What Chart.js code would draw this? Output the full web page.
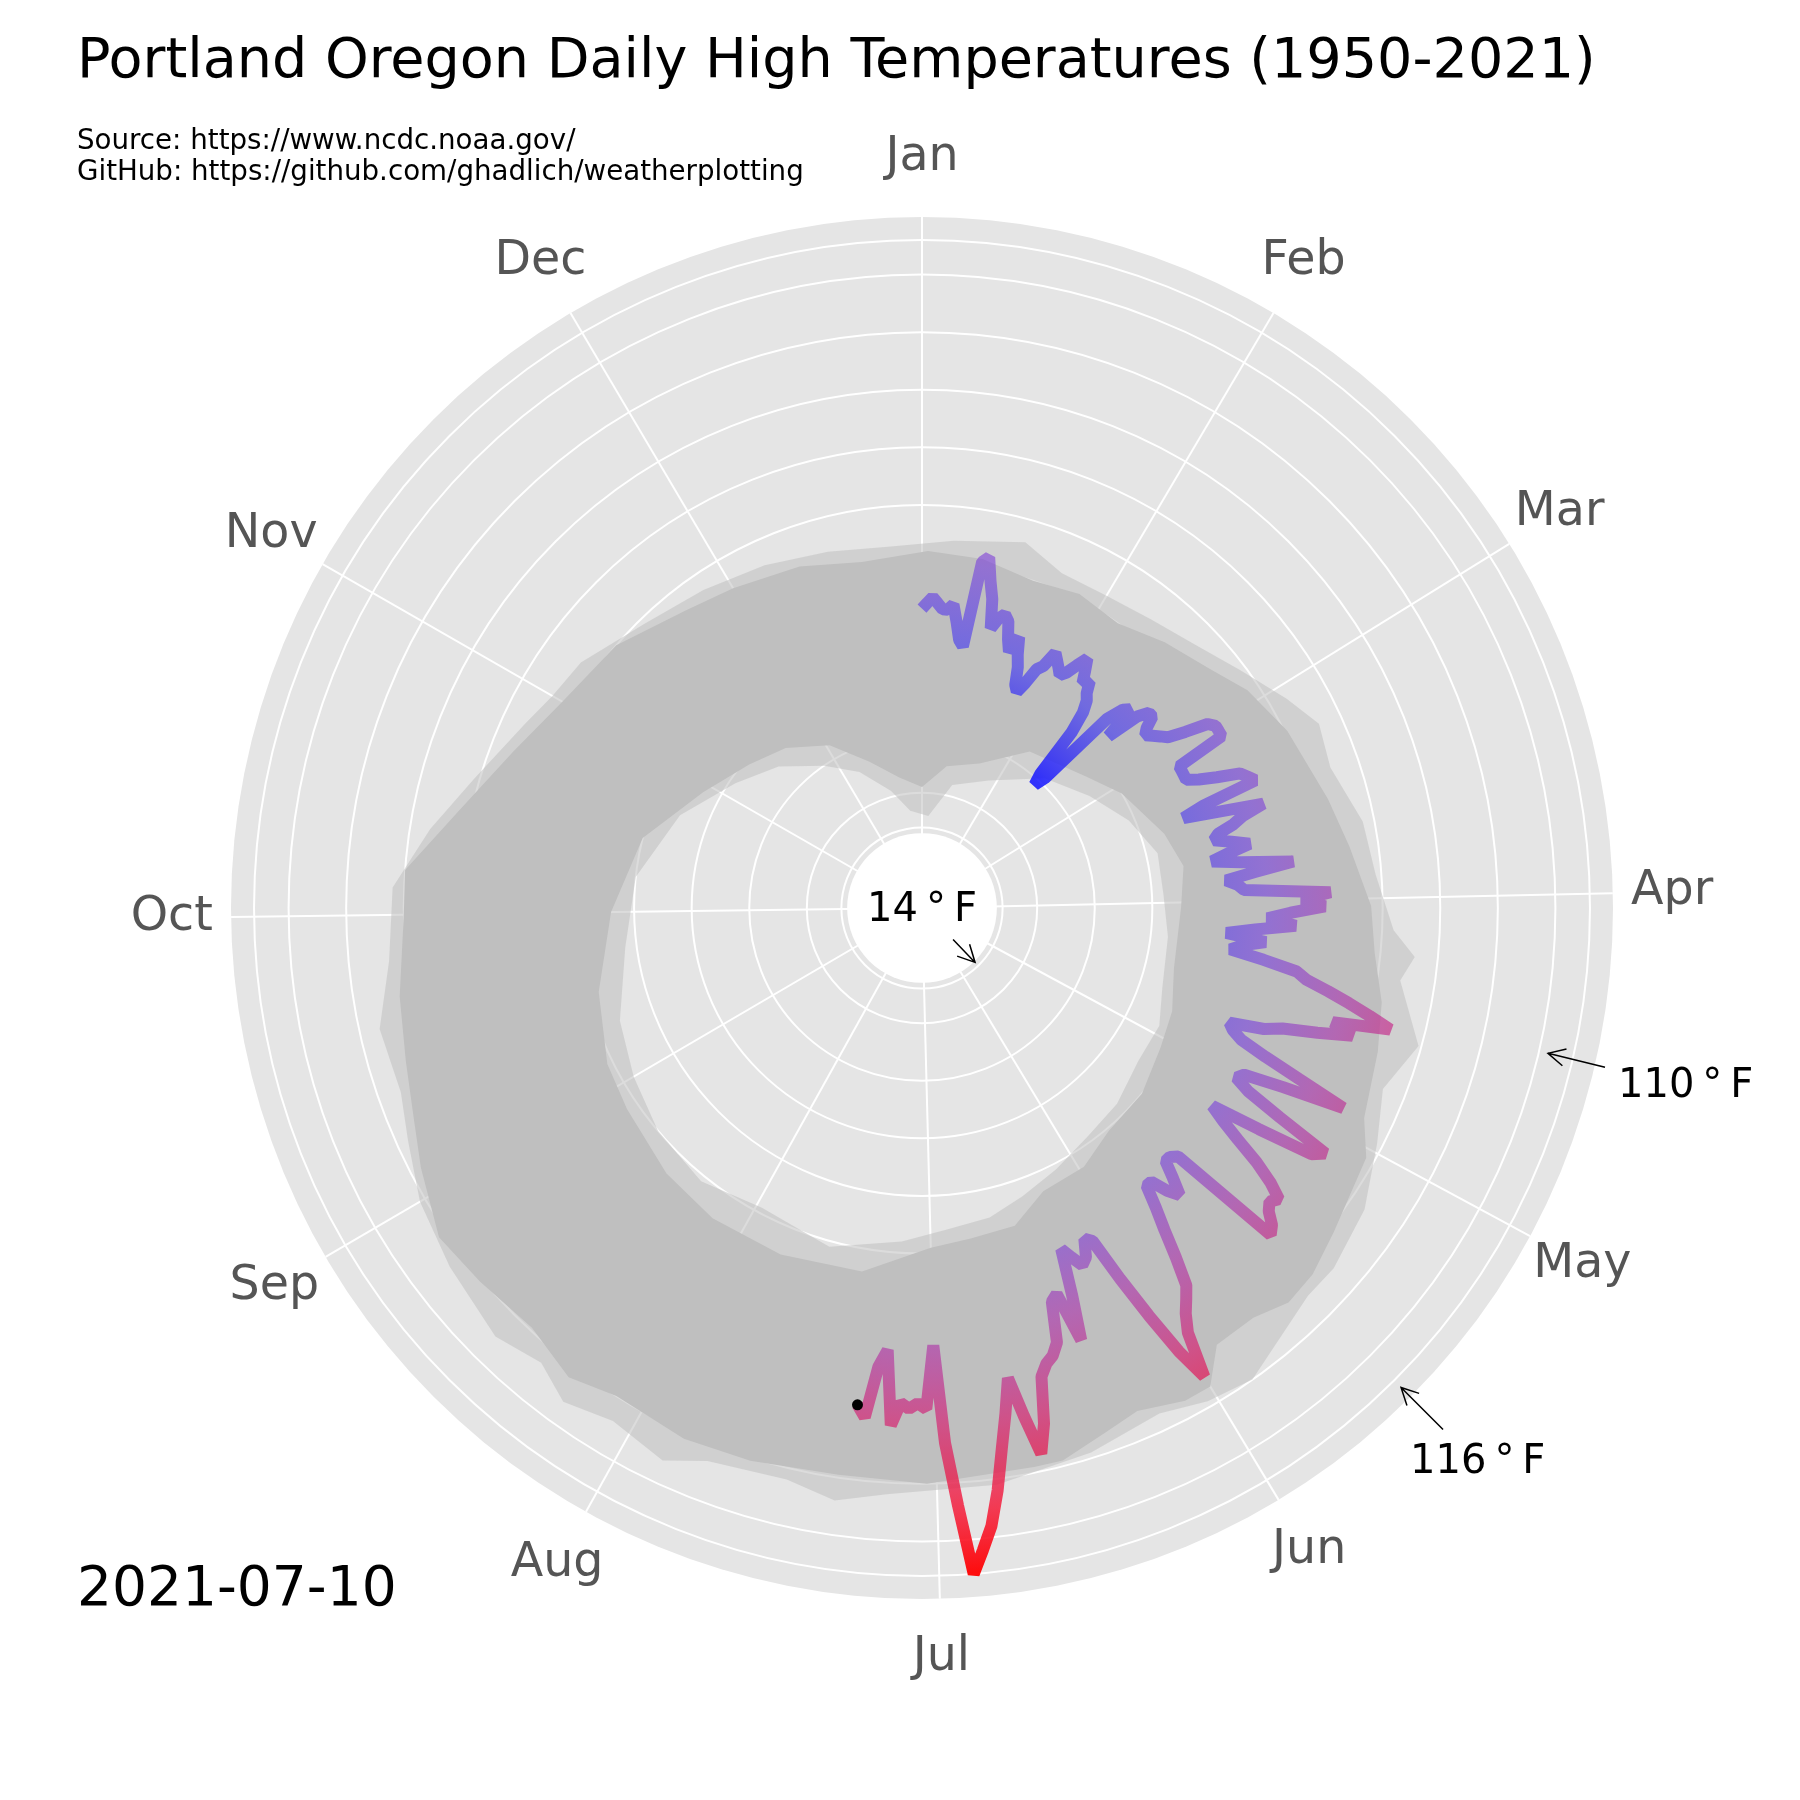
<!DOCTYPE html>
<html>
<head>
<meta charset="utf-8">
<script src="https://cdn.jsdelivr.net/npm/chart.js@4.4.1/dist/chart.umd.min.js"></script>
<style>
  html, body { margin: 0; padding: 0; background: #ffffff; }
  #wrap { position: relative; width: 1800px; height: 1800px; }
  canvas { position: absolute; left: 0; top: 0; }
</style>
</head>
<body>
<div id="wrap"><canvas id="c" width="1800" height="1800"></canvas></div>
<script>
// ---------------- data ----------------
const monthNames = ['Jan','Feb','Mar','Apr','May','Jun','Jul','Aug','Sep','Oct','Nov','Dec'];
const monthDays  = [31,28,31,30,31,30,31,31,30,31,30,31];
const ringTicks  = [0, 14, 20, 30, 40, 50, 60, 70, 80, 90, 100, 110, 116];

// 2021 daily highs (deg F), Jan 1 .. Jul 10
const high2021 = [
  52,53,54,53,52,52,53,50,47,46,61,62,58,55,50,52,53,52,49,47,50,47,45,42,41,43,46,47,50,49,48,
  47,48,50,52,50,48,49,47,46,44,40,31,29,31,46,49,50,44,50,52,52,50,49,50,51,52,55,59,
  60,60,60,51,51,51,51,53,56,60,61,62,52,48,54,62,58,56,53,52,55,58,54,51,56,65,58,53,55,56,71,
  66,70,64,60,65,58,53,60,56,54,60,66,68,72,76,80,84,74,78,72,66,63,57,58,60,65,72,81,70,63,
  62,65,72,82,80,70,61,64,68,73,77,80,79,80,82,83,62,61,61,64,67,65,62,62,66,70,75,80,82,84,87,
  95,89,81,73,65,64,67,68,66,64,72,80,71,72,79,81,82,84,92,97,90,83,89,95,102,108,112,116,104,93,
  76,87,86,87,86,90,77,80,89,87
];

// 1950-2020 daily highs: dense core of the years (upper / lower edge), day-of-year index
const bandHighDays = [1,10,19,27,35,43,51,57,65,76,83,91,97,103,109,117,121,130,135,139,143,148,151,154,159,163,168,171,182,191,200,207,215,220,226,233,239,246,251,257,264,273,278,286,295,304,315,326,334,345,355];
const bandHigh     = [62,61.5,60,61,60,62.5,65,68,70.5,73,75,78,79,81.5,83,85,88.5,91,93,93.5,91.5,91.5,97,97,95,96.5,99,99,100,99.5,100.5,101,100,102,99.5,100.5,101.5,98,95.5,93.5,92,90,90,82,76,72,70,66,64.5,63,61];
const bandLowDays  = [0,10,22,35,52,61,74,82,91,105,114,122,132,142,150,159,166,174,181,192,205,217,227,239,247,259,273,288,302,314,324,335,345,355];
const bandLow      = [21,25,27,33,36.5,40,44,46,45,45,47,48,50,50.5,53,53.5,57.5,58,59,64,65,65,64,62,61,58,54,50,43,39,36.5,32.5,27,23];

// outlying single-year values (light fringe of spikes)
const spikeHighDays = [5,16,23,31,39,47,54,61,66,72,80,87,94,97,100,107,113,119,126,133,137,147,152,157,165,175,186,191,196,204,208,214,219,223,228,236,243,249,254,261,268,276,283,290,299,304,310,320,330,340,350,360];
const spikeHigh     = [64,66,63,63,64,66,69,73,76,75,78,79,82,86,84,89.5,86,89,93,95,95,100,99,97,99,101,102,104,102,103,106,104,106,103,105,103,101,98,96,96.5,93,92,86.5,81,76,74,73,69,67,65.5,64,63];
const spikeLowDays  = [4,14,28,44,57,68,78,88,98,110,118,127,137,146,155,163,170,178,186,198,211,222,233,243,253,266,280,295,308,319,330,340,350,358];
const spikeLow      = [16,22,25,31,35,39,42,42,43,44,46,46,48,49,51,53,55,56,58,61,59,61,60,58,56,52,50,45,39,35,30,26,21,17];

const annotations = [
  { text: '110\u2009°\u2009F', day: 104.5, temp: 111.6, tail: [57, 14],  textAt: [70, 44] },
  { text: '116\u2009°\u2009F', day: 136.9, temp: 117.7, tail: [42, 42],  textAt: [9, 86] },
  { text: '14\u2009°\u2009F',  day: 137.6, temp: 13.2,  tail: [-22, -23], textAt: null }
];
const dateText = '2021-07-10';

// ---------------- build ----------------
const labels = [];
const monthStart = [];
monthNames.forEach((m, i) => {
  monthStart.push(labels.length);
  for (let d = 1; d <= monthDays[i]; d++) labels.push(m + ' ' + d);
});
const N = labels.length;
const monthStartSet = new Set(monthStart);

function place(days, vals) {
  const arr = new Array(N).fill(null);
  days.forEach((d, i) => { arr[d] = vals[i]; });
  return arr;
}
const line2021 = new Array(N).fill(null);
high2021.forEach((v, i) => { line2021[i] = v; });
const lastIdx = high2021.length - 1;

function lineGradient(context) {
  const chart = context.chart;
  const s = chart.scales && chart.scales.r;
  if (!s || s.xCenter === undefined) return 'rgba(128,0,128,0.6)';
  const g = chart.ctx.createRadialGradient(s.xCenter, s.yCenter, 0, s.xCenter, s.yCenter, s.drawingArea);
  const stop = (t, c) => g.addColorStop(Math.min(1, t / 120), c);
  stop(0,   'rgba(0,0,255,0.9)');
  stop(14,  'rgba(0,0,255,0.9)');
  stop(30,  'rgba(20,20,255,0.85)');
  stop(45,  'rgba(60,50,245,0.6)');
  stop(60,  'rgba(110,50,225,0.55)');
  stop(75,  'rgba(170,40,170,0.58)');
  stop(90,  'rgba(215,30,110,0.68)');
  stop(105, 'rgba(245,20,50,0.82)');
  stop(116, 'rgba(255,0,0,0.95)');
  stop(120, 'rgba(255,0,0,0.95)');
  return g;
}

const FONT = '"DejaVu Sans", "Liberation Sans", sans-serif';

function arrow(ctx, hx, hy, tx, ty) {
  ctx.beginPath();
  ctx.moveTo(tx, ty); ctx.lineTo(hx, hy);
  const a = Math.atan2(ty - hy, tx - hx);
  const L = 19, w = 0.47;
  ctx.moveTo(hx + L * Math.cos(a + w), hy + L * Math.sin(a + w));
  ctx.lineTo(hx, hy);
  ctx.lineTo(hx + L * Math.cos(a - w), hy + L * Math.sin(a - w));
  ctx.stroke();
}

const decor = {
  id: 'decor',
  beforeDatasetsDraw(chart) {
    const s = chart.scales.r, ctx = chart.ctx;
    ctx.save();
    ctx.fillStyle = '#ffffff';
    ctx.beginPath();
    ctx.arc(s.xCenter, s.yCenter, s.getDistanceFromCenterForValue(13), 0, Math.PI * 2);
    ctx.fill();
    ctx.restore();
  },
  afterDraw(chart) {
    const s = chart.scales.r, ctx = chart.ctx;
    ctx.save();
    // month labels
    ctx.font = '47.5px ' + FONT;
    ctx.fillStyle = '#555555';
    ctx.textAlign = 'center';
    ctx.textBaseline = 'middle';
    monthStart.forEach((idx, m) => {
      const p = s.getPointPositionForValue(idx, 130.3);
      ctx.fillText(monthNames[m], p.x, p.y);
    });
    // titles
    ctx.fillStyle = '#000000';
    ctx.textAlign = 'left';
    ctx.textBaseline = 'alphabetic';
    ctx.font = '55.6px ' + FONT;
    ctx.fillText('Portland Oregon Daily High Temperatures (1950-2021)', 77, 77);
    ctx.font = '27.7px ' + FONT;
    ctx.fillText('Source: https://www.ncdc.noaa.gov/', 77, 149);
    ctx.fillText('GitHub: https://github.com/ghadlich/weatherplotting', 77, 180);
    ctx.font = '55px ' + FONT;
    ctx.fillText(dateText, 77, 1605);
    // annotations
    ctx.font = '40px ' + FONT;
    ctx.strokeStyle = '#000000';
    ctx.lineWidth = 1.5;
    annotations.forEach(a => {
      const h = s.getPointPositionForValue(a.day, a.temp);
      arrow(ctx, h.x, h.y, h.x + a.tail[0], h.y + a.tail[1]);
      if (a.textAt) {
        ctx.textAlign = 'left';
        ctx.fillText(a.text, h.x + a.textAt[0], h.y + a.textAt[1]);
      } else {
        ctx.textAlign = 'center';
        ctx.fillText(a.text, s.xCenter, s.yCenter + 13);
      }
    });
    ctx.restore();
  }
};

new Chart(document.getElementById('c').getContext('2d'), {
  type: 'radar',
  data: {
    labels: labels,
    datasets: [
      {
        label: '2021',
        data: line2021,
        borderColor: lineGradient,
        borderWidth: 12,
        borderJoinStyle: 'bevel',
        borderCapStyle: 'butt',
        fill: false,
        spanGaps: false,
        pointRadius: (c) => c.dataIndex === lastIdx ? 5.5 : 0,
        pointBackgroundColor: '#000000',
        pointBorderWidth: 0,
        pointHoverRadius: 0
      },
      { label: 'core high', data: place(bandHighDays, bandHigh), borderWidth: 0, pointRadius: 0, spanGaps: true, fill: 2, backgroundColor: '#bfbfbf' },
      { label: 'core low',  data: place(bandLowDays, bandLow),   borderWidth: 0, pointRadius: 0, spanGaps: true, fill: false },
      { label: 'spike high', data: place(spikeHighDays, spikeHigh), borderWidth: 0, pointRadius: 0, spanGaps: true, fill: 4, backgroundColor: 'rgba(191,191,191,0.55)' },
      { label: 'spike low',  data: place(spikeLowDays, spikeLow),   borderWidth: 0, pointRadius: 0, spanGaps: true, fill: false }
    ]
  },
  options: {
    responsive: false,
    animation: false,
    events: [],
    layout: { padding: { left: 231, top: 217, right: 187, bottom: 201 } },
    plugins: {
      legend: { display: false },
      tooltip: { enabled: false },
      title: { display: false }
    },
    scales: {
      r: {
        min: 0,
        max: 120,
        startAngle: 0,
        backgroundColor: '#e5e5e5',
        grid: { circular: true, color: '#ffffff', lineWidth: 2 },
        angleLines: {
          display: true,
          color: (c) => monthStartSet.has(c.index) ? '#ffffff' : 'rgba(0,0,0,0)',
          lineWidth: (c) => monthStartSet.has(c.index) ? 2 : 0
        },
        pointLabels: { display: false },
        ticks: { display: false },
        afterBuildTicks: (scale) => { scale.ticks = ringTicks.map(v => ({ value: v })); }
      }
    }
  },
  plugins: [decor]
});
</script>
</body>
</html>
